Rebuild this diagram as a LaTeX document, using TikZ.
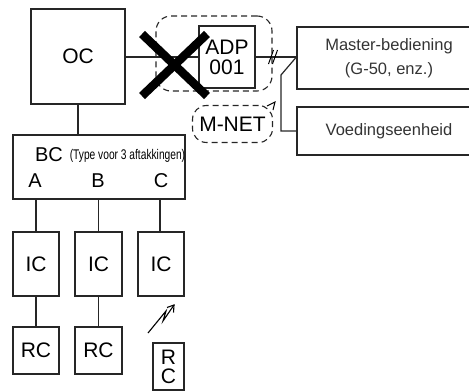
\documentclass[tikz,border=0pt]{standalone}
\usepackage{fontspec}
\setmainfont{Liberation Sans}
\usetikzlibrary{arrows.meta}
\newcommand{\bigf}{\fontsize{21}{24}\selectfont}
\newcommand{\midf}{\fontsize{16.5}{24}\selectfont}
\begin{document}
\begin{tikzpicture}[x=1pt,y=-1pt,
  ln/.style={line width=1.2pt, draw=black!85},
  box/.style={ln, rectangle, inner sep=0pt, align=center, font=\bigf},
  dbox/.style={draw=black!85, line width=1.1pt, dash pattern=on 6pt off 4pt, rounded corners=15pt, inner sep=0pt}]
\useasboundingbox (0,0) rectangle (469,391);
% boxes
\node[box, minimum width=94pt, minimum height=95pt] (OC) at (78,56.5) {OC};
\node[box, minimum width=56pt, minimum height=62pt, text depth=0pt] (ADP) at (227,57) {ADP\\[-4pt]001};
\node[dbox, minimum width=116pt, minimum height=75pt] (grp) at (214,53.5) {};
\node[box, minimum width=184pt, minimum height=62pt, font=\midf, text=black!80] (MB) at (389,58) {Master-bediening\\(G-50, enz.)};
\node[box, minimum width=184pt, minimum height=48pt, font=\midf, text=black!80] (VE) at (389,131) {Voedingseenheid};
\node[dbox, minimum width=80pt, minimum height=37pt, rounded corners=14pt, font=\bigf] (MN) at (232.5,124) {M-NET};
\node[box, minimum width=172pt, minimum height=64pt] (BC) at (99,167) {};
\node[font=\fontsize{20}{22}\selectfont] (bct) at (49,155) {BC};
\node[font=\fontsize{14}{15}\selectfont] (bcl) at (127.5,156) {\scalebox{0.73}[1]{(Type voor 3 aftakkingen)}};
\node[font=\fontsize{20}{22}\selectfont] (ta) at (35,181) {A};
\node[font=\fontsize{20}{22}\selectfont] (tb) at (98,181) {B};
\node[font=\fontsize{20}{22}\selectfont] (tc) at (161,181) {C};
\node[box, minimum width=46pt, minimum height=64pt] (IC1) at (36,264) {IC};
\node[box, minimum width=47pt, minimum height=64pt] (IC2) at (98.5,264) {IC};
\node[box, minimum width=46pt, minimum height=64pt] (IC3) at (161,264) {IC};
\node[box, minimum width=46pt, minimum height=47pt] (RC1) at (36,350.5) {RC};
\node[box, minimum width=47pt, minimum height=47pt] (RC2) at (98.5,350.5) {RC};
\node[box, minimum width=31pt, minimum height=47pt] (RC3) at (168.5,366.5) {R\\[-5pt]C};
% connectors
\draw[ln] (OC.east |- 0,57) -- (ADP.west |- 0,57);
\draw[ln] (ADP.east |- 0,57) -- (MB.west |- 0,57);
\coordinate (pk) at (281,75);
\coordinate (pb) at (281,131);
\draw[ln] (MB.west |- 0,57) -- (pk) -- (pb) -- (VE.west);
\draw[ln] (OC.south) -- (BC.north -| OC.south);
\draw[ln] (BC.south -| IC1.north) -- (IC1.north);
\draw[ln] (BC.south -| IC2.north) -- (IC2.north);
\draw[ln] (BC.south -| 160,0) -- (IC3.north -| 160,0);
\draw[ln] (IC1.south) -- (RC1.north);
\draw[ln] (IC2.south) -- (RC2.north);
% double slash
\draw[line width=1pt] (268.5,64) -- (273.5,50);
\draw[line width=1pt] (272.5,64) -- (277.5,50);
% arrow tip at M-NET
\draw[line width=1pt] (267,106) -- (275,102) -- (273,110);
% lightning
\coordinate (l1) at (148,333);
\coordinate (l2) at (166,311);
\coordinate (l3) at (163,321);
\coordinate (l4) at (174,305);
\draw[line width=1.1pt] (l1) -- (l2) -- (l3) -- (l4);
\draw[line width=1.1pt] (167,307.5) -- (174,305) -- (173.5,312.5);
% cross
\draw[line width=8.5pt, black] (142,34) -- (207,96);
\draw[line width=8.5pt, black] (207,34) -- (142,96);
\end{tikzpicture}
\end{document}
